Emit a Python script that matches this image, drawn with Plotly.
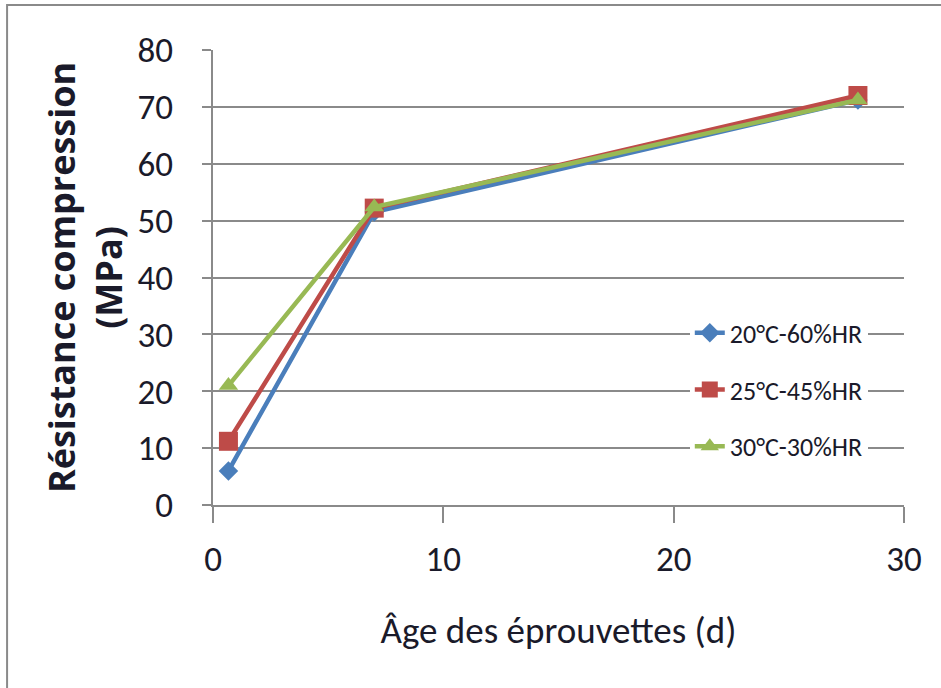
import plotly.graph_objects as go

# Age of the specimens (days) and compressive strength (MPa) per curing condition
ages = [0.67, 7, 28]
series_names = ["20°C-60%HR", "25°C-45%HR", "30°C-30%HR"]
strength_20c = [6, 51.5, 71.2]
strength_25c = [11.2, 52.2, 72]
strength_30c = [21, 52.4, 71.2]

colors = ["#4A7EBB", "#BE4B48", "#98B954"]
symbols = ["diamond", "square", "triangle-up"]
marker_sizes = [15, 19, 17]

fig = go.Figure()
for i, (name, vals) in enumerate(zip(series_names, [strength_20c, strength_25c, strength_30c])):
    fig.add_trace(go.Scatter(
        x=ages, y=vals, name=name, mode="lines+markers",
        legendgroup=f"g{i}",
        line=dict(color=colors[i], width=4.5),
        marker=dict(symbol=symbols[i], size=marker_sizes[i], color=colors[i]),
    ))

text_font = "Carlito, Liberation Sans Narrow, Noto Sans"
text_col = "#1a1a2a"
grid_col = "#8a8a8a"

fig.update_layout(
    width=941, height=688,
    margin=dict(l=213, r=37, t=50, b=183),
    paper_bgcolor="white", plot_bgcolor="white",
    showlegend=True,
    legend=dict(
        x=0.69, y=0.43, xanchor="left", yanchor="top",
        bgcolor="white", borderwidth=0,
        font=dict(family=text_font, size=26, color=text_col),
        tracegroupgap=20, traceorder="grouped",
    ),
    xaxis=dict(
        range=[0, 30], tickvals=[0, 10, 20, 30], showgrid=False, zeroline=False,
        showline=True, linecolor=grid_col, linewidth=2,
        ticks="outside", ticklen=16, tickwidth=2, tickcolor=grid_col,
        ticklabelstandoff=6,
        tickfont=dict(family=text_font, size=35, color=text_col),
        title=dict(text="Âge des éprouvettes (d)",
                   font=dict(family=text_font, size=37, color=text_col),
                   standoff=38),
    ),
    yaxis=dict(
        range=[0, 80], dtick=10, showgrid=True, gridcolor=grid_col, gridwidth=2,
        zeroline=False, showline=True, linecolor=grid_col, linewidth=2,
        ticks="outside", ticklen=9, tickwidth=2, tickcolor=grid_col,
        ticklabelstandoff=22,
        tickfont=dict(family=text_font, size=35, color=text_col),
        title=dict(text="<b>Résistance compression<br>(MPa)</b>",
                   font=dict(family="Open Sans", size=36, color=text_col),
                   standoff=4),
    ),
)

# Outer frame around the chart
fig.add_shape(type="rect", xref="paper", yref="paper",
              x0=-0.298, x1=1.1, y0=-0.5, y1=1.099,
              line=dict(color="#8a8a8a", width=2), fillcolor="rgba(0,0,0,0)", layer="below")

fig.write_html("out.html")
